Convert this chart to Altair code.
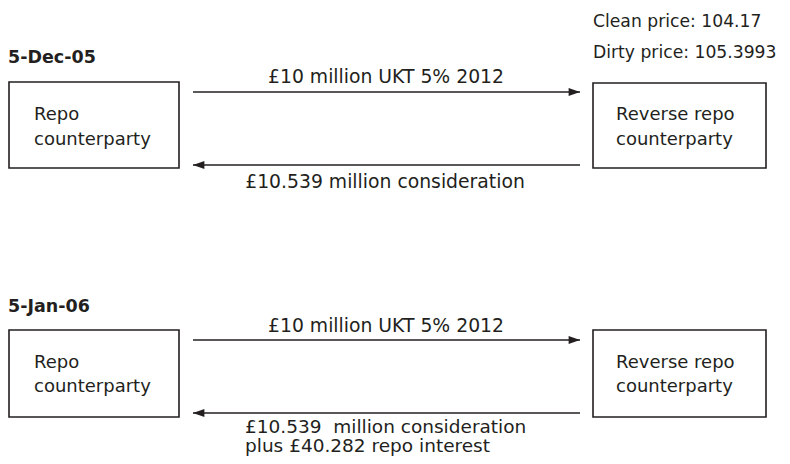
import altair as alt
import pandas as pd

INK = "#231f20"
FONT = "DejaVu Sans"

# ---- boxes (counterparties) ----
box_left = [9, 593, 9, 593]
box_right = [179, 766, 179, 766]
box_top = [82, 83, 330, 330]
box_bottom = [168, 168, 417, 417]

# ---- arrows ----
arrow_start = [193, 580, 193, 580]
arrow_end = [580, 193, 580, 193]
arrow_y = [92, 165, 340, 413]
arrow_dir = ["right", "left", "right", "left"]

# ---- dates (bold) ----
date_text = ["5-Dec-05", "5-Jan-06"]
date_x = [8, 8]
date_y = [63, 312]

# ---- box labels ----
box_text = ["Repo", "counterparty", "Reverse repo", "counterparty",
            "Repo", "counterparty", "Reverse repo", "counterparty"]
box_tx = [34, 34, 616, 616, 34, 34, 616, 616]
box_ty = [120, 145, 120, 145, 368, 392, 368, 392]

# ---- prices ----
price_text = ["Clean price: 104.17", "Dirty price: 105.3993"]
price_x = [593, 593]
price_y = [27, 58]

# ---- centred arrow labels ----
center_text = ["£10 million UKT 5% 2012", "£10.539 million consideration",
               "£10 million UKT 5% 2012"]
center_x = [386, 385, 386]
center_y = [83, 188, 332]

# ---- left-aligned arrow label (second date) ----
repay_text = ["£10.539\u00a0 million consideration", "plus £40.282 repo interest"]
repay_x = [245, 245]
repay_y = [433, 452]

W, H = 774, 448
xs = alt.Scale(domain=[8, 8 + W], range=[0, W])
ys = alt.Scale(domain=[8, 8 + H], range=[0, H])

boxes = pd.DataFrame({"x": box_left, "x2": box_right, "y": box_top, "y2": box_bottom})
arrows = pd.DataFrame({"x": arrow_start, "x2": arrow_end, "y": arrow_y, "dir": arrow_dir})
dates = pd.DataFrame({"t": date_text, "x": date_x, "y": date_y})
boxlab = pd.DataFrame({"t": box_text, "x": box_tx, "y": box_ty})
prices = pd.DataFrame({"t": price_text, "x": price_x, "y": price_y})
centers = pd.DataFrame({"t": center_text, "x": center_x, "y": center_y})
repay = pd.DataFrame({"t": repay_text, "x": repay_x, "y": repay_y})

X = lambda f: alt.X(f, type="quantitative", scale=xs, axis=None)
Y = lambda f: alt.Y(f, type="quantitative", scale=ys, axis=None)

box_layer = alt.Chart(boxes).mark_rect(
    fill="white", fillOpacity=0, stroke=INK, strokeWidth=1.6
).encode(x=X("x"), x2="x2", y=Y("y"), y2="y2")

line_layer = alt.Chart(arrows).mark_rule(color=INK, strokeWidth=1.6).encode(
    x=X("x"), x2="x2", y=Y("y"))

path_r = "M0,0 L-2,-0.7 L-2,0.7 Z"
path_l = "M0,0 L2,-0.7 L2,0.7 Z"
head_layer = alt.Chart(arrows).mark_point(
    filled=True, opacity=1, size=130, color=INK, strokeWidth=0
).encode(
    x=X("x2"), y=Y("y"),
    shape=alt.Shape("dir:N", scale=alt.Scale(domain=["right", "left"], range=[path_r, path_l]), legend=None),
)

def txt(df, align, size, weight="normal"):
    return alt.Chart(df).mark_text(
        align=align, baseline="alphabetic", font=FONT, fontSize=size,
        fontWeight=weight, color=INK
    ).encode(x=X("x"), y=Y("y"), text="t:N")

chart = alt.layer(
    box_layer, line_layer, head_layer,
    txt(dates, "left", 17.5, "bold"),
    txt(boxlab, "left", 18),
    txt(prices, "left", 17.2),
    txt(centers, "center", 18.8),
    txt(repay, "left", 18.5),
).properties(
    width=W, height=H, padding=0, autosize=alt.AutoSizeParams(type="none"),
    background="white"
).configure_view(stroke=None)

chart.save("out.html", embed_options={"renderer": "svg", "actions": False})
